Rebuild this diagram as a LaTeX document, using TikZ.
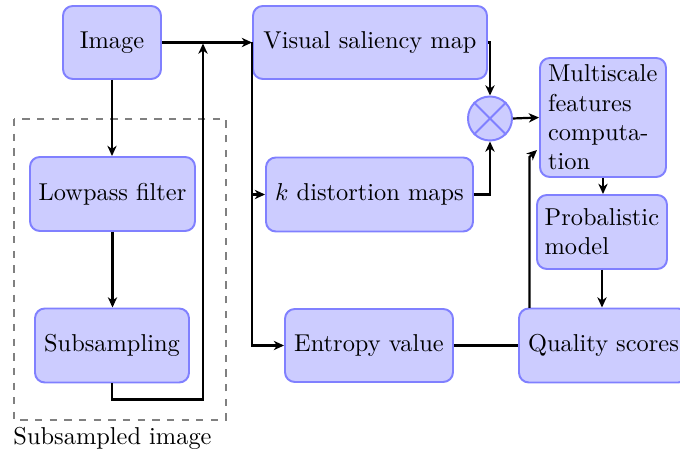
\documentclass[tikz,border=0pt]{standalone}
\usetikzlibrary{arrows.meta}
\def\pxu{0.4098pt}
\tikzset{
  box/.style={draw=blue!50, fill=blue!20, line width=0.8pt, rounded corners=4pt, inner sep=2pt, align=center},
  conn/.style={line width=0.9pt, >={Stealth[length=4.2pt, width=3.8pt, inset=1.3pt]}},
}
\begin{document}
\begin{tikzpicture}[x=0.4098pt, y=-0.4098pt]
\useasboundingbox (0,0) rectangle (680,450);
% dashed group
\draw[gray, dashed, line width=0.8pt] (14,119) rectangle (226,420);
\node[anchor=north west, inner sep=0pt] (lbl) at (13,427) {Subsampled image};
% nodes
\node[box, minimum width={98*\pxu}, minimum height={73*\pxu}] (img) at (112,42.5) {Image};
\node[box, minimum width={234*\pxu}, minimum height={73*\pxu}] (vsm) at (370,42.5) {Visual saliency map};
\node[box, minimum width={126*\pxu}, minimum height={119*\pxu}, text width=45pt, align=left] (mfc) at (603,117.5) {Multiscale\\features\\computa-\\tion};
\node[box, minimum width={130*\pxu}, minimum height={74*\pxu}, text width=47pt, align=left] (prob) at (602,232) {Probalistic\\model};
\node[box, minimum width={165*\pxu}, minimum height={74*\pxu}] (lp) at (112.5,194) {Lowpass filter};
\node[box, minimum width={207*\pxu}, minimum height={74*\pxu}] (kd) at (369.5,194.5) {$k$ distortion maps};
\node[box, minimum width={154*\pxu}, minimum height={74*\pxu}] (sub) at (112,345.5) {Subsampling};
\node[box, minimum width={168*\pxu}, minimum height={73*\pxu}] (ent) at (369,345.5) {Entropy value};
\node[box, minimum width={169*\pxu}, minimum height={74*\pxu}] (qs) at (603.5,345.5) {Quality scores};
\node[circle, draw=blue!50, fill=blue!20, line width=0.8pt, minimum size={44*\pxu}, inner sep=0pt] (circ) at (490,118.5) {};
\draw[blue!50, line width=0.8pt] (circ.45) -- (circ.225) (circ.135) -- (circ.315);
% coordinates
\coordinate (j) at (203,43.5);
\coordinate (qa) at (529.5,308);
\coordinate (qb) at (529.5,157);
\coordinate (mfcin) at (537,150);
% connectors
\draw[conn,->] (img.east) -- (vsm.west);
\draw[conn,->] (img.south) -- (img.south |- lp.north);
\draw[conn,->] (lp.south) -- (lp.south |- sub.north);
\draw[conn,->] (sub.south) -- ++(0,16) -| (j);
\draw[conn,->] (vsm.west) |- (kd.west);
\draw[conn,->] (vsm.west) |- (ent.west);
\draw[conn,->] (vsm.east) -| (circ.north);
\draw[conn,->] (kd.east) -| (circ.south);
\draw[conn,->] (circ.east) -- (mfc.west);
\draw[conn] (ent.east) -- (qs.west);
\draw[conn,->] (mfc.south) -- (mfc.south |- prob.north);
\draw[conn,->] (prob.south) -- (prob.south |- qs.north);
\draw[conn,->] (qa) -- (qb) -- (mfcin);
\end{tikzpicture}
\end{document}
